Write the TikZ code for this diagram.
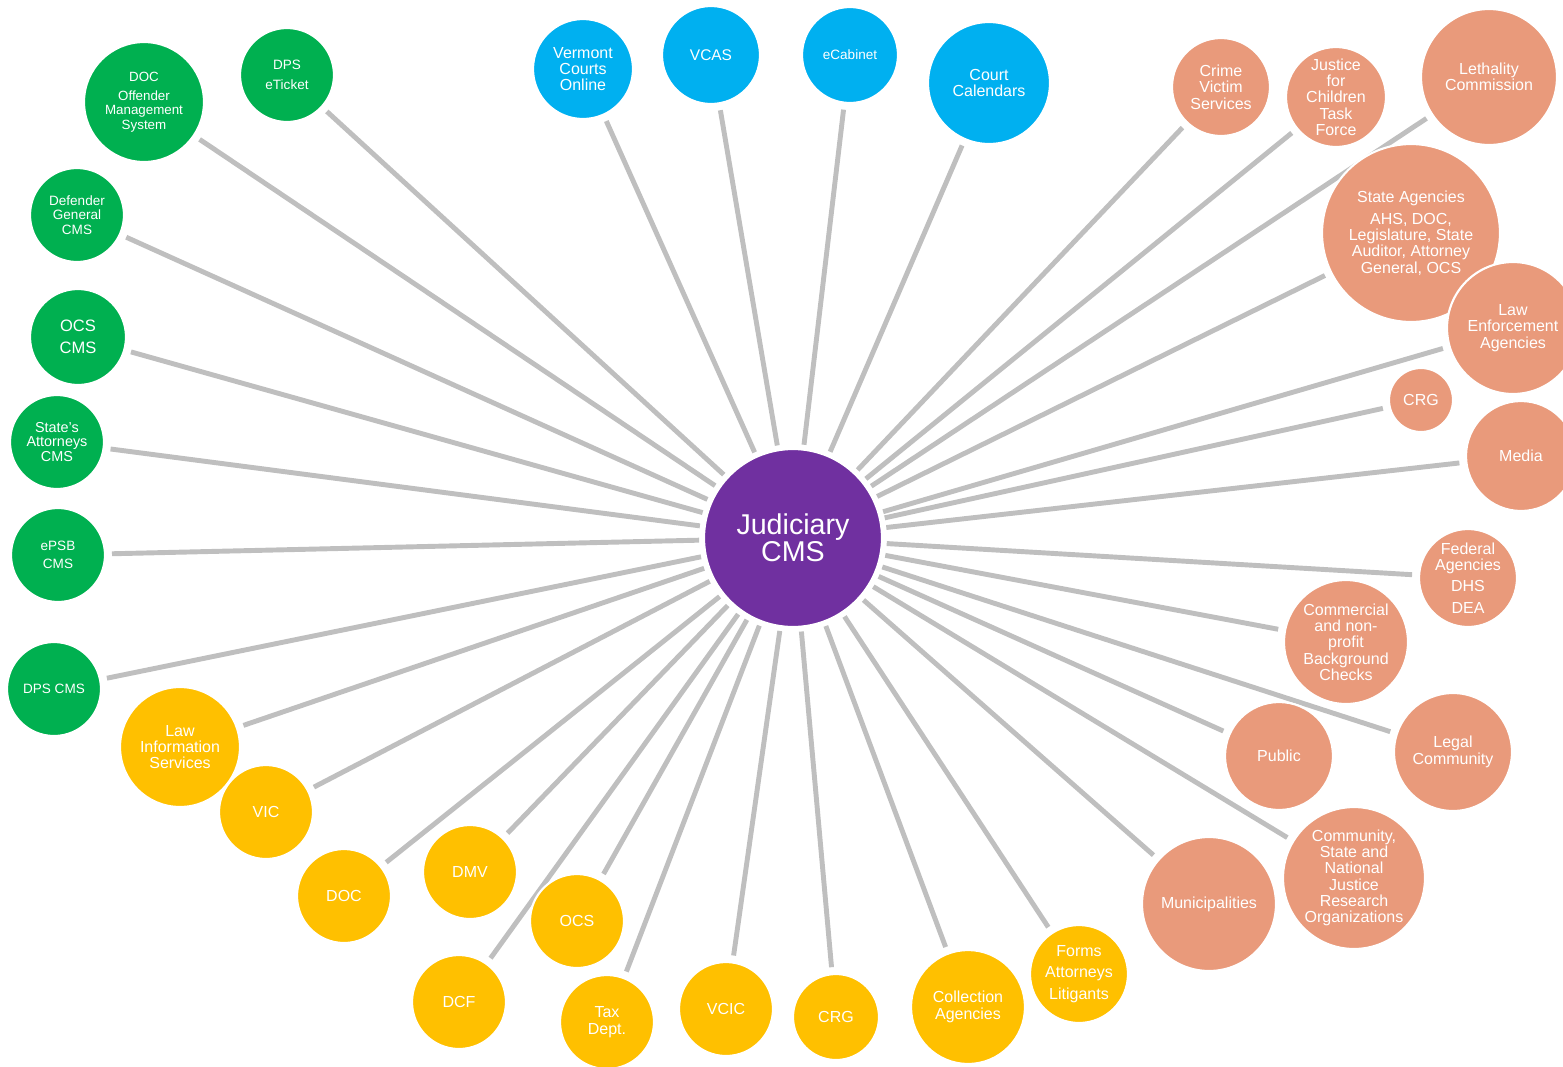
\documentclass[tikz,border=0pt]{standalone}
\usepackage{fontspec}
\setmainfont{Liberation Sans}
\usepackage{tikz}
\usetikzlibrary{backgrounds}
\definecolor{jpurple}{HTML}{7030A0}
\definecolor{cgreen}{HTML}{00B050}
\definecolor{cblue}{HTML}{00B0F0}
\definecolor{csalmon}{HTML}{E99A7B}
\definecolor{cyellow}{HTML}{FFC000}
\definecolor{clink}{HTML}{BFBFBF}
\tikzset{bub/.style={circle,draw=white,line width=1.2pt,text=white,align=center,inner sep=0pt,font=\fontsize{9.1}{9.3}\selectfont},
  rad/.style={minimum size=0.04cm*#1},
  sm/.style={font=\fontsize{7.7}{8.1}\selectfont},
  hub/.style={bub,fill=jpurple,font=\fontsize{16.3}{15.5}\selectfont},
  grn/.style={bub,fill=cgreen},blu/.style={bub,fill=cblue},
  slm/.style={bub,fill=csalmon},ylw/.style={bub,fill=cyellow}}
\tikzset{link/.style={draw=clink,line width=2.8pt,shorten <=2.2pt,shorten >=3.4pt}}
\begin{document}
\begin{tikzpicture}[x=0.02cm,y=-0.02cm]
  \useasboundingbox (0,0) rectangle (1563,1066);
  \node[hub,rad=89] (j) at (793,538) {Judiciary\\CMS};
  \node[grn,rad=60,font=\fontsize{7.6}{8}\selectfont] (g1) at (144,102) {DOC\\[3pt]Offender\\Management\\System};
  \node[grn,rad=47,sm] (g2) at (287,75) {DPS\\[3pt]eTicket};
  \node[grn,rad=47,sm] (g3) at (77,215) {Defender\\General\\CMS};
  \node[grn,rad=48,font=\fontsize{9.4}{9.4}\selectfont] (g4) at (78,337) {OCS\\[3pt]CMS};
  \node[grn,rad=47,font=\fontsize{8.2}{8.2}\selectfont] (g5) at (57,442) {State's\\Attorneys\\CMS};
  \node[grn,rad=47,sm] (g6) at (58,555) {ePSB\\[2.5pt]CMS};
  \node[grn,rad=47,sm] (g7) at (54,689) {DPS CMS};
  \node[blu,rad=50] (b1) at (583,69) {Vermont\\Courts\\Online};
  \node[blu,rad=49,font=\fontsize{8.8}{9}\selectfont] (b2) at (711,55) {VCAS};
  \node[blu,rad=48,sm] (b3) at (850,55) {eCabinet};
  \node[blu,rad=61] (b4) at (989,83) {Court\\Calendars};
  \node[slm,rad=49] (s1) at (1221,87) {Crime\\Victim\\Services};
  \node[slm,rad=50] (s2) at (1336,97) {Justice\\for\\Children\\Task\\Force};
  \node[slm,rad=68] (s3) at (1489,77) {Lethality\\Commission};
  \node[slm,rad=89] (s4) at (1411,233) {State Agencies\\[3pt]AHS, DOC,\\Legislature, State\\Auditor, Attorney\\General, OCS};
  \node[slm,rad=66] (s5) at (1513,328) {Law\\Enforcement\\Agencies};
  \node[slm,rad=32] (s6) at (1421,400) {CRG};
  \node[slm,rad=55] (s7) at (1521,456) {Media};
  \node[slm,rad=49] (s8) at (1468,578) {Federal\\Agencies\\[3pt]DHS\\[3pt]DEA};
  \node[slm,rad=62] (s9) at (1346,642) {Commercial\\and non-\\profit\\Background\\Checks};
  \node[slm,rad=54] (s10) at (1279,756) {Public};
  \node[slm,rad=59] (s11) at (1453,752) {Legal\\Community};
  \node[slm,rad=71] (s12) at (1354,878) {Community,\\State and\\National\\Justice\\Research\\Organizations};
  \node[slm,rad=67] (s13) at (1209,904) {Municipalities};
  \node[ylw,rad=60] (y1) at (180,747) {Law\\Information\\Services};
  \node[ylw,rad=47] (y2) at (266,812) {VIC};
  \node[ylw,rad=47] (y3) at (344,896) {DOC};
  \node[ylw,rad=47] (y4) at (470,872) {DMV};
  \node[ylw,rad=47] (y5) at (459,1002) {DCF};
  \node[ylw,rad=47] (y6) at (577,921) {OCS};
  \node[ylw,rad=47] (y7) at (607,1022) {Tax\\Dept.};
  \node[ylw,rad=47] (y8) at (726,1009) {VCIC};
  \node[ylw,rad=43] (y9) at (836,1017) {CRG};
  \node[ylw,rad=57] (y10) at (968,1007) {Collection\\Agencies};
  \node[ylw,rad=49] (y11) at (1079,974) {Forms\\[3pt]Attorneys\\[3pt]Litigants};
  \begin{pgfonlayer}{background}
  \draw[link] (j) edge (g1) edge (g2) edge (g3) edge (g4) edge (g5) edge (g6) edge (g7)
  (j) edge (b1) edge (b2) edge (b3) edge (b4)
  (j) edge (s1) edge (s2) edge (s3) edge (s4) edge (s5) edge (s6) edge (s7)
  (j) edge (s8) edge (s9) edge (s10) edge (s11) edge (s12) edge (s13)
  (j) edge (y1) edge (y2) edge (y3) edge (y4) edge (y5) edge (y6)
  (j) edge (y7) edge (y8) edge (y9) edge (y10) edge (y11)
  ;
  \end{pgfonlayer}
\end{tikzpicture}
\end{document}
